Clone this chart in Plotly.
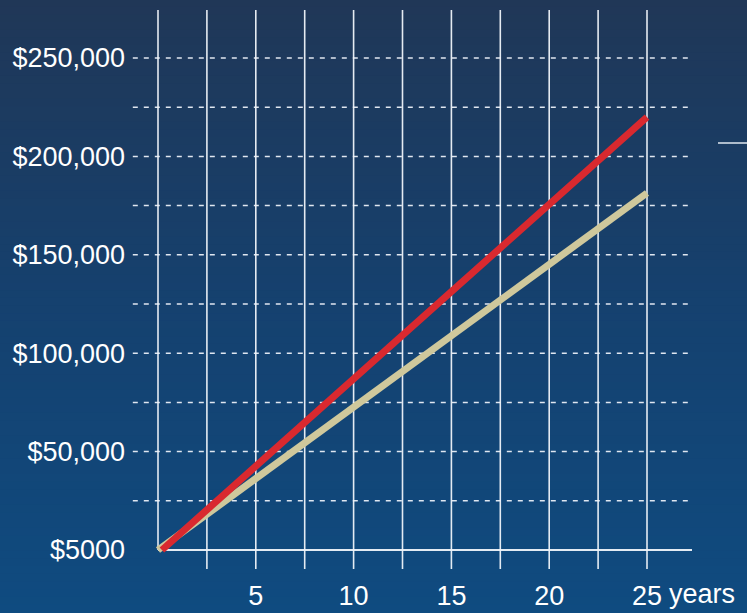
import plotly.graph_objects as go

# ---- data ----
years_red = [0.2, 25]
values_red = [0, 220000]
years_tan = [0, 25]
values_tan = [0, 181400]

y_tick_vals = [0, 50000, 100000, 150000, 200000, 250000]
y_tick_text = ["$5000", "$50,000", "$100,000", "$150,000", "$200,000", "$250,000"]
x_tick_vals = [5, 10, 15, 20, 25]
x_tick_text = ["5", "10", "15", "20", "25"]
x_unit = "years"

dash_levels = [25000 * i for i in range(1, 11)]
vert_levels = [2.5 * i for i in range(0, 11)]

W, H = 747, 613
L, R, T, B = 130, 55, 10, 44

fig = go.Figure()

fig.add_trace(go.Scatter(x=years_tan, y=values_tan, mode="lines",
                         line=dict(color="#cfc89c", width=7), hoverinfo="skip"))
fig.add_trace(go.Scatter(x=years_red, y=values_red, mode="lines",
                         line=dict(color="#d9292f", width=7), hoverinfo="skip"))

shapes = []
# background gradient bands
stops = [(0.0, (0x20, 0x37, 0x57)), (0.5, (0x15, 0x41, 0x6f)), (1.0, (0x0f, 0x4b, 0x80))]
def col(t):
    for i in range(len(stops) - 1):
        t0, c0 = stops[i]
        t1, c1 = stops[i + 1]
        if t0 <= t <= t1:
            f = (t - t0) / (t1 - t0)
            return "rgb(%d,%d,%d)" % tuple(round(c0[k] + (c1[k] - c0[k]) * f) for k in range(3))
    return "rgb(15,75,128)"
N = 80
pw = W - L - R
ph = H - T - B
for i in range(N):
    top_px = H * i / N
    bot_px = H * (i + 1) / N + 1
    shapes.append(dict(type="rect", xref="paper", yref="paper",
                       x0=-L / pw, x1=(W - L) / pw,
                       y0=(H - B - bot_px) / ph, y1=(H - B - top_px + 1) / ph,
                       fillcolor=col((i + 0.5) / N), line=dict(width=0), layer="below"))

# dashed horizontal gridlines
for v in dash_levels:
    shapes.append(dict(type="line", xref="paper", yref="y", x0=0.005, x1=0.995, y0=v, y1=v,
                       line=dict(color="rgba(235,240,248,0.95)", width=1.5, dash="5px,6px"),
                       layer="below"))
# vertical gridlines
for xv in vert_levels:
    shapes.append(dict(type="line", xref="x", yref="paper", x0=xv, x1=xv,
                       y0=(0 if xv > 0 else 19 / ph), y1=1,
                       line=dict(color="rgba(240,244,250,0.95)", width=1.6), layer="below"))
# baseline
shapes.append(dict(type="line", xref="x", yref="y", x0=0, x1=30, y0=0, y1=0,
                   line=dict(color="rgba(240,244,250,0.95)", width=2), layer="below"))
# legend fragment at right
shapes.append(dict(type="line", xref="paper", yref="paper",
                   x0=(718 - L) / pw, x1=(747 - L) / pw, y0=(H - B - 143) / ph, y1=(H - B - 143) / ph,
                   line=dict(color="rgba(235,240,248,0.95)", width=1.5)))

x_px_per = 489 / 25
y_px_per = 492 / 250000
fig.update_layout(
    width=W, height=H,
    margin=dict(l=L, r=R, t=T, b=B, autoexpand=False),
    paper_bgcolor="#154170", plot_bgcolor="rgba(0,0,0,0)",
    showlegend=False,
    shapes=shapes,
    font=dict(family="Liberation Sans, Arial, sans-serif", color="white", size=27),
    xaxis=dict(range=[-(158 - L) / x_px_per, 25 + (W - R - 647) / x_px_per],
               showgrid=False, zeroline=False, showline=False, ticks="", automargin=False,
               tickvals=x_tick_vals, ticktext=x_tick_text, ticklabelstandoff=8,
               tickfont=dict(size=27)),
    yaxis=dict(range=[-(H - B - 550) / y_px_per, 250000 + (58 - T) / y_px_per],
               showgrid=False, zeroline=False, showline=False, ticks="", automargin=False,
               tickvals=y_tick_vals, ticktext=y_tick_text, ticklabelstandoff=4,
               tickfont=dict(size=27)),
    annotations=[dict(x=25, xref="x", y=0, yref="paper", text=x_unit, showarrow=False,
                      xanchor="left", yanchor="top", xshift=20, yshift=-8,
                      font=dict(size=27, color="white"))],
)

fig.write_html("out.html")
